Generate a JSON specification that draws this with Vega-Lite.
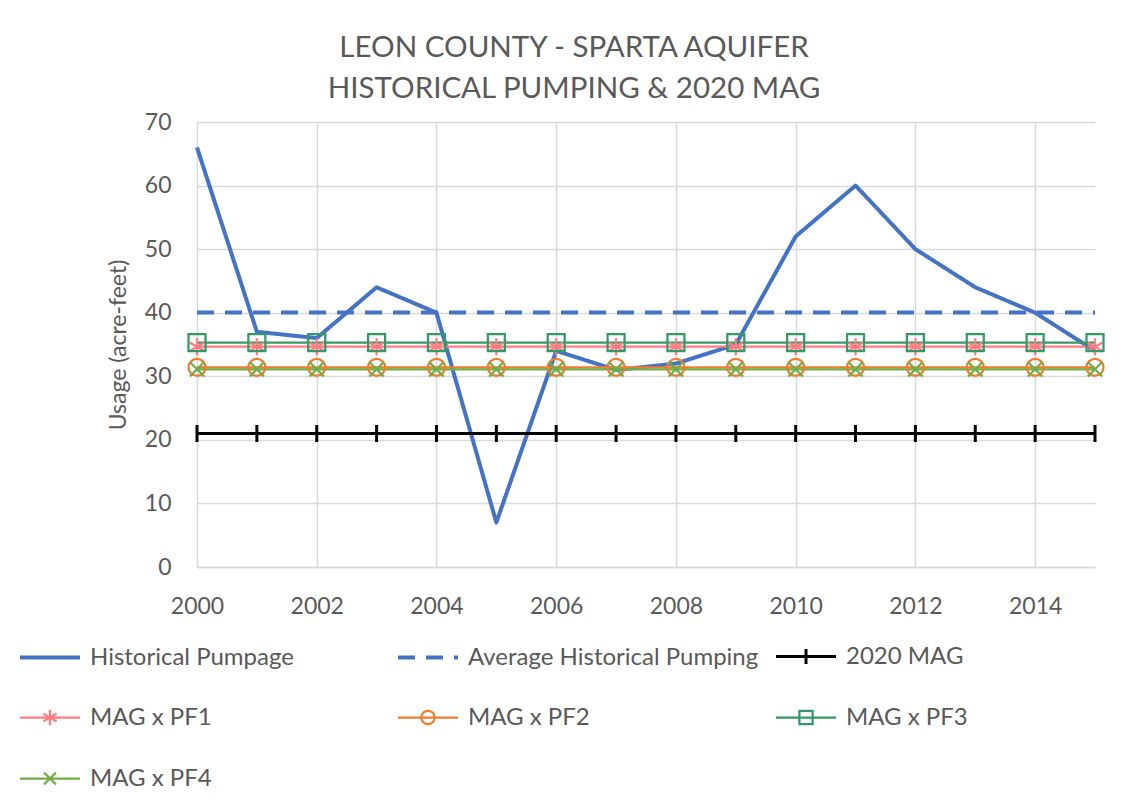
{
  "$schema": "https://vega.github.io/schema/vega-lite/v6.json",
  "width": 898,
  "height": 445,
  "autosize": {"type": "none"},
  "padding": {"left": 197, "top": 122, "right": 43, "bottom": 238},
  "background": "white",
  "config": {
    "font": "Lato",
    "view": {"stroke": null}
  },
  "title": {
    "text": ["LEON COUNTY - SPARTA AQUIFER", "HISTORICAL PUMPING & 2020 MAG"],
    "font": "Lato",
    "fontSize": 29.5,
    "fontWeight": "normal",
    "color": "#595959",
    "anchor": "middle",
    "dx": -72,
    "offset": 7,
    "lineHeight": 41
  },
  "data": {
    "values": [
      {"year": 2000, "Historical Pumpage": 66, "Average Historical Pumping": 40.05, "2020 MAG": 21, "MAG x PF1": 34.65, "MAG x PF2": 31.4, "MAG x PF3": 35.3, "MAG x PF4": 31.1},
      {"year": 2001, "Historical Pumpage": 37, "Average Historical Pumping": 40.05, "2020 MAG": 21, "MAG x PF1": 34.65, "MAG x PF2": 31.4, "MAG x PF3": 35.3, "MAG x PF4": 31.1},
      {"year": 2002, "Historical Pumpage": 36, "Average Historical Pumping": 40.05, "2020 MAG": 21, "MAG x PF1": 34.65, "MAG x PF2": 31.4, "MAG x PF3": 35.3, "MAG x PF4": 31.1},
      {"year": 2003, "Historical Pumpage": 44, "Average Historical Pumping": 40.05, "2020 MAG": 21, "MAG x PF1": 34.65, "MAG x PF2": 31.4, "MAG x PF3": 35.3, "MAG x PF4": 31.1},
      {"year": 2004, "Historical Pumpage": 40, "Average Historical Pumping": 40.05, "2020 MAG": 21, "MAG x PF1": 34.65, "MAG x PF2": 31.4, "MAG x PF3": 35.3, "MAG x PF4": 31.1},
      {"year": 2005, "Historical Pumpage": 7, "Average Historical Pumping": 40.05, "2020 MAG": 21, "MAG x PF1": 34.65, "MAG x PF2": 31.4, "MAG x PF3": 35.3, "MAG x PF4": 31.1},
      {"year": 2006, "Historical Pumpage": 34, "Average Historical Pumping": 40.05, "2020 MAG": 21, "MAG x PF1": 34.65, "MAG x PF2": 31.4, "MAG x PF3": 35.3, "MAG x PF4": 31.1},
      {"year": 2007, "Historical Pumpage": 31, "Average Historical Pumping": 40.05, "2020 MAG": 21, "MAG x PF1": 34.65, "MAG x PF2": 31.4, "MAG x PF3": 35.3, "MAG x PF4": 31.1},
      {"year": 2008, "Historical Pumpage": 32, "Average Historical Pumping": 40.05, "2020 MAG": 21, "MAG x PF1": 34.65, "MAG x PF2": 31.4, "MAG x PF3": 35.3, "MAG x PF4": 31.1},
      {"year": 2009, "Historical Pumpage": 35, "Average Historical Pumping": 40.05, "2020 MAG": 21, "MAG x PF1": 34.65, "MAG x PF2": 31.4, "MAG x PF3": 35.3, "MAG x PF4": 31.1},
      {"year": 2010, "Historical Pumpage": 52, "Average Historical Pumping": 40.05, "2020 MAG": 21, "MAG x PF1": 34.65, "MAG x PF2": 31.4, "MAG x PF3": 35.3, "MAG x PF4": 31.1},
      {"year": 2011, "Historical Pumpage": 60, "Average Historical Pumping": 40.05, "2020 MAG": 21, "MAG x PF1": 34.65, "MAG x PF2": 31.4, "MAG x PF3": 35.3, "MAG x PF4": 31.1},
      {"year": 2012, "Historical Pumpage": 50, "Average Historical Pumping": 40.05, "2020 MAG": 21, "MAG x PF1": 34.65, "MAG x PF2": 31.4, "MAG x PF3": 35.3, "MAG x PF4": 31.1},
      {"year": 2013, "Historical Pumpage": 44, "Average Historical Pumping": 40.05, "2020 MAG": 21, "MAG x PF1": 34.65, "MAG x PF2": 31.4, "MAG x PF3": 35.3, "MAG x PF4": 31.1},
      {"year": 2014, "Historical Pumpage": 40, "Average Historical Pumping": 40.05, "2020 MAG": 21, "MAG x PF1": 34.65, "MAG x PF2": 31.4, "MAG x PF3": 35.3, "MAG x PF4": 31.1},
      {"year": 2015, "Historical Pumpage": 34, "Average Historical Pumping": 40.05, "2020 MAG": 21, "MAG x PF1": 34.65, "MAG x PF2": 31.4, "MAG x PF3": 35.3, "MAG x PF4": 31.1}
    ]
  },
  "transform": [
    {"fold": ["Historical Pumpage", "Average Historical Pumping", "2020 MAG", "MAG x PF1", "MAG x PF2", "MAG x PF3", "MAG x PF4"], "as": ["series", "value"]}
  ],
  "encoding": {
    "x": {
      "field": "year",
      "type": "quantitative",
      "scale": {"domain": [2000, 2015], "nice": false, "zero": false},
      "axis": {
        "title": null,
        "values": [2000, 2002, 2004, 2006, 2008, 2010, 2012, 2014],
        "format": "d",
        "labelFont": "Lato",
        "labelFontSize": 23,
        "labelColor": "#595959",
        "labelPadding": 28,
        "labelFlush": false,
        "ticks": false,
        "grid": true,
        "gridColor": "#D9D9D9",
        "gridWidth": 1.5,
        "domain": true,
        "domainColor": "#D9D9D9",
        "domainWidth": 1.5
      }
    },
    "y": {
      "field": "value",
      "type": "quantitative",
      "scale": {"domain": [0, 70], "nice": false},
      "axis": {
        "title": "Usage (acre-feet)",
        "titleFont": "Lato",
        "titleFontSize": 23,
        "titleFontWeight": "normal",
        "titleColor": "#595959",
        "titlePadding": 14,
        "values": [0, 10, 20, 30, 40, 50, 60, 70],
        "labelFont": "Lato",
        "labelFontSize": 23,
        "labelColor": "#595959",
        "labelPadding": 26,
        "labelFlush": false,
        "ticks": false,
        "domain": false,
        "grid": true,
        "gridColor": "#D9D9D9",
        "gridWidth": 1.5
      }
    },
    "color": {
      "field": "series",
      "type": "nominal",
      "scale": {
        "domain": ["Historical Pumpage", "Average Historical Pumping", "2020 MAG", "MAG x PF1", "MAG x PF2", "MAG x PF3", "MAG x PF4"],
        "range": ["#4472C4", "#4472C4", "#000000", "#FF7C80", "#ED7D31", "#339966", "#70AD47"]
      },
      "legend": {
        "title": null,
        "orient": "none",
        "legendX": -179,
        "legendY": 503,
        "direction": "horizontal",
        "columns": 3,
        "gridAlign": "all",
        "columnPadding": 9,
        "rowPadding": 16,
        "symbolSize": 3600,
        "labelFont": "Lato",
        "labelFontSize": 24,
        "labelColor": "#595959",
        "labelOffset": 8,
        "labelLimit": 400,
        "encode": {
          "symbols": {
            "update": {
              "shape": {"signal": "datum.value === '2020 MAG' ? 'M-1,0H1M0,-0.25V0.25' : datum.value === 'MAG x PF1' ? 'M-1,0H1M0,-0.26V0.26M-0.22,-0.13L0.22,0.13M-0.22,0.13L0.22,-0.13' : datum.value === 'MAG x PF2' ? 'M-1,0H1M0.22,0A0.22,0.22 0 1,1 -0.22,0A0.22,0.22 0 1,1 0.22,0' : datum.value === 'MAG x PF3' ? 'M-1,0H1M-0.22,-0.22H0.22V0.22H-0.22Z' : datum.value === 'MAG x PF4' ? 'M-1,0H1M-0.2,-0.2L0.2,0.2M-0.2,0.2L0.2,-0.2' : 'M-1,0H1'"},
              "strokeWidth": {"signal": "datum.value === 'Historical Pumpage' || datum.value === 'Average Historical Pumping' ? 4 : datum.value === '2020 MAG' ? 3 : 2.25"},
              "fill": {"value": "transparent"},
              "size": {"value": 3600},
              "opacity": {"value": 1}
            }
          }
        }
      }
    }
  },
  "layer": [
    {
      "mark": {"type": "line", "strokeJoin": "round", "strokeCap": "butt"},
      "encoding": {
        "strokeDash": {
          "field": "series",
          "type": "nominal",
          "scale": {
            "domain": ["Historical Pumpage", "Average Historical Pumping", "2020 MAG", "MAG x PF1", "MAG x PF2", "MAG x PF3", "MAG x PF4"],
            "range": [[1, 0], [17, 11], [1, 0], [1, 0], [1, 0], [1, 0], [1, 0]]
          }
        },
        "strokeWidth": {
          "field": "series",
          "type": "nominal",
          "scale": {
            "type": "ordinal",
            "domain": ["Historical Pumpage", "Average Historical Pumping", "2020 MAG", "MAG x PF1", "MAG x PF2", "MAG x PF3", "MAG x PF4"],
            "range": [4, 4, 3, 2.25, 2.25, 2.25, 2.25]
          },
          "legend": null
        }
      }
    },
    {
      "transform": [
        {"filter": {"field": "series", "oneOf": ["2020 MAG", "MAG x PF1", "MAG x PF2", "MAG x PF3", "MAG x PF4"]}}
      ],
      "mark": {"type": "point", "filled": false, "opacity": 1, "size": 289},
      "encoding": {
        "shape": {
          "field": "series",
          "type": "nominal",
          "scale": {
            "domain": ["2020 MAG", "MAG x PF1", "MAG x PF2", "MAG x PF3", "MAG x PF4"],
            "range": ["M0,-1V1", "M0,-1V1M-0.87,-0.5L0.87,0.5M-0.87,0.5L0.87,-0.5", "circle", "square", "M-0.85,-0.85L0.85,0.85M-0.85,0.85L0.85,-0.85"]
          },
          "legend": null
        },
        "strokeWidth": {
          "field": "series",
          "type": "nominal",
          "scale": {
            "type": "ordinal",
            "domain": ["Historical Pumpage", "Average Historical Pumping", "2020 MAG", "MAG x PF1", "MAG x PF2", "MAG x PF3", "MAG x PF4"],
            "range": [4, 4, 3, 2.25, 2.25, 2.25, 2.25]
          },
          "legend": null
        }
      }
    }
  ]
}
